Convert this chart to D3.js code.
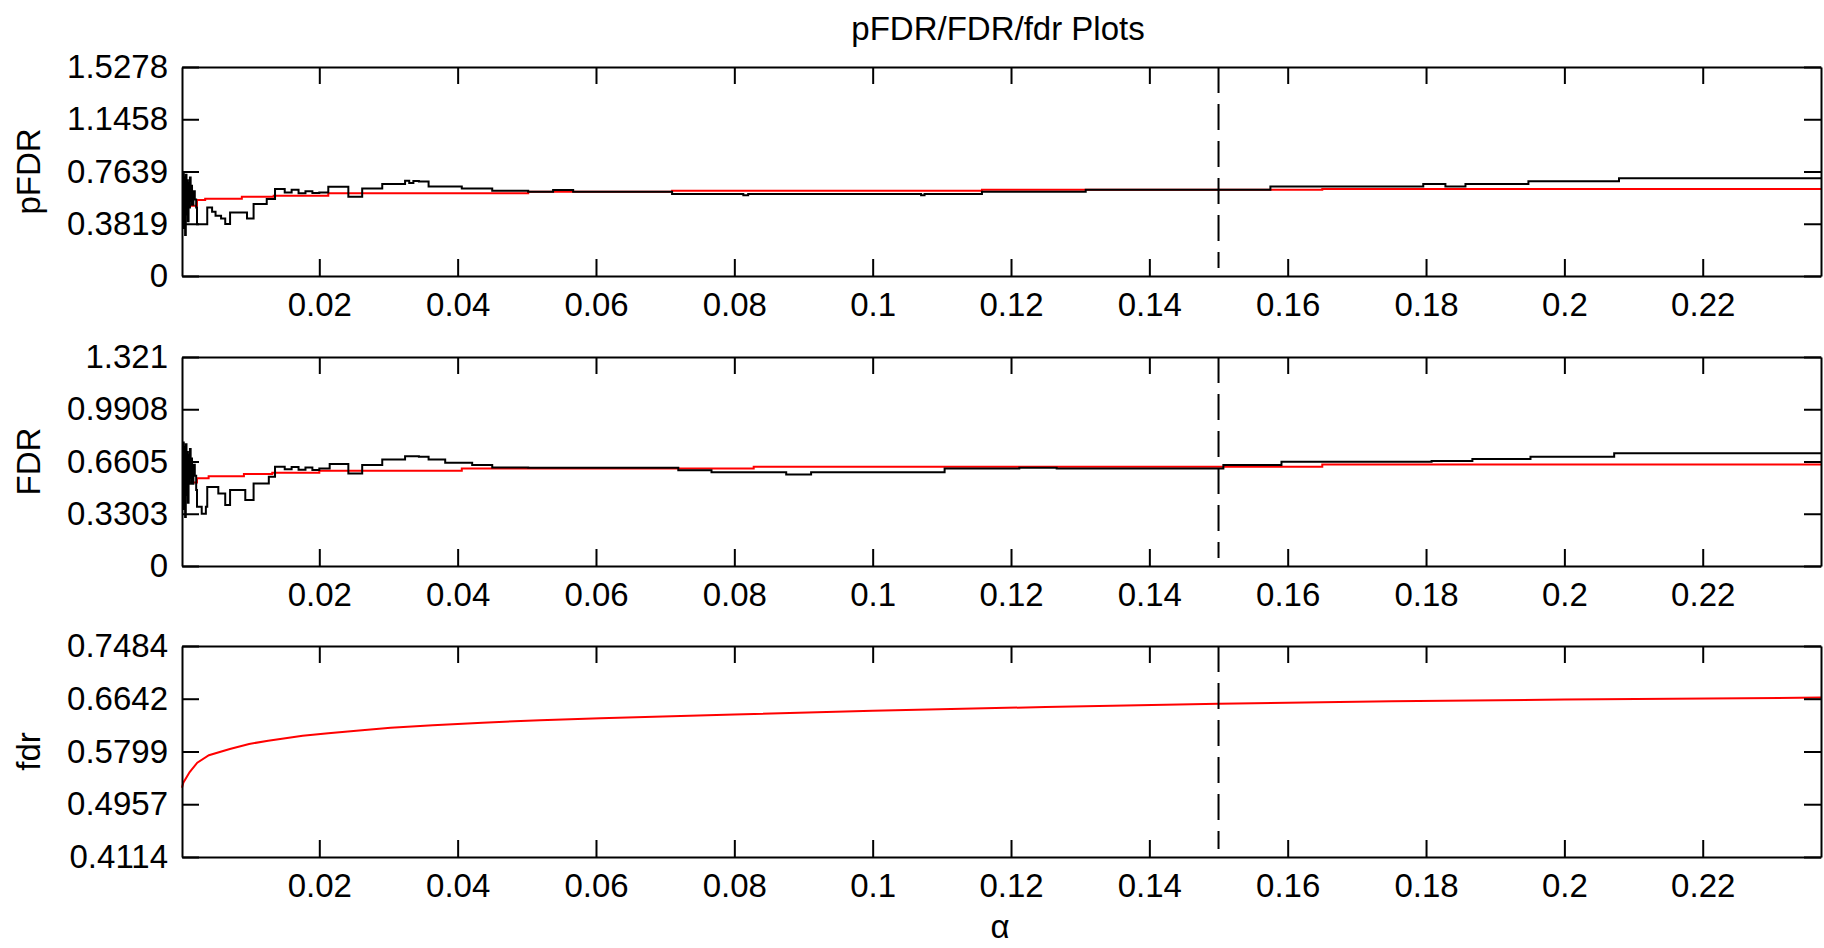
<!DOCTYPE html>
<html>
<head>
<meta charset="utf-8">
<script src="https://cdn.jsdelivr.net/npm/d3@7"></script>
<style>
  body { margin: 0; background: #fff; }
  svg text { font-family: "Liberation Sans", Arial, sans-serif; fill: #000; }
</style>
</head>
<body>
<svg id="chart" width="1824" height="948"></svg>
<script>
// x axis (alpha)
const alphaRange = [0.00015, 0.2371];
const alphaTicks = [0.02, 0.04, 0.06, 0.08, 0.1, 0.12, 0.14, 0.16, 0.18, 0.2, 0.22];
const alphaCut = 0.15;

// y tick labels per panel
const pfdrTicks = [0, 0.3819, 0.7639, 1.1458, 1.5278];
const fdrTicks = [0, 0.3303, 0.6605, 0.9908, 1.321];
const localTicks = [0.4114, 0.4957, 0.5799, 0.6642, 0.7484];

// pFDR panel: observed (black) and estimate (red), [alpha, value]
const pfdrObserved = [
  [0.00015, 0.55], [0.0003, 0.76], [0.0004, 0.35], [0.0005, 0.72], [0.0006, 0.30],
  [0.0007, 0.74], [0.0008, 0.45], [0.0009, 0.70], [0.0010, 0.40], [0.0011, 0.68],
  [0.0012, 0.50], [0.0013, 0.72], [0.0014, 0.55], [0.0015, 0.66], [0.0016, 0.52],
  [0.0018, 0.62], [0.0020, 0.56], [0.0022, 0.50], [0.00232, 0.379], [0.0036, 0.379],
  [0.0038, 0.50], [0.0045, 0.47], [0.0050, 0.44], [0.0058, 0.42], [0.0064, 0.38],
  [0.0071, 0.464], [0.0093, 0.464], [0.00955, 0.42], [0.0105, 0.526], [0.0124, 0.563],
  [0.0136, 0.636], [0.0150, 0.611], [0.0160, 0.63], [0.0170, 0.605], [0.0180, 0.62],
  [0.0190, 0.606], [0.0200, 0.611], [0.0213, 0.653], [0.0242, 0.579], [0.0262, 0.64],
  [0.0291, 0.672], [0.0324, 0.697], [0.0330, 0.68], [0.0336, 0.695], [0.0344, 0.69],
  [0.0358, 0.655], [0.0406, 0.640], [0.0450, 0.623], [0.0502, 0.616], [0.0538, 0.628],
  [0.0567, 0.616], [0.0710, 0.599], [0.0813, 0.590], [0.0820, 0.599], [0.1070, 0.590],
  [0.1075, 0.599], [0.1158, 0.616], [0.1308, 0.631], [0.1575, 0.655], [0.1796, 0.673],
  [0.1828, 0.655], [0.1857, 0.673], [0.1948, 0.692], [0.2079, 0.714], [0.2371, 0.714]
];
const pfdrEstimate = [
  [0.00015, 0.513], [0.00232, 0.555], [0.0035, 0.565], [0.0088, 0.579], [0.0134, 0.587],
  [0.0213, 0.604], [0.0502, 0.616], [0.0710, 0.623], [0.1158, 0.631], [0.1650, 0.636],
  [0.2371, 0.636]
];

// FDR panel
const fdrObserved = [
  [0.00015, 0.60], [0.0003, 0.78], [0.0004, 0.36], [0.0005, 0.75], [0.0006, 0.31],
  [0.0007, 0.77], [0.0008, 0.45], [0.0009, 0.72], [0.0010, 0.40], [0.0011, 0.70],
  [0.0012, 0.52], [0.0013, 0.74], [0.0014, 0.56], [0.0015, 0.68], [0.0016, 0.52],
  [0.0018, 0.64], [0.0020, 0.57], [0.0022, 0.48], [0.00232, 0.374], [0.0030, 0.33],
  [0.0036, 0.374], [0.0038, 0.50], [0.0054, 0.459], [0.0064, 0.385], [0.0071, 0.48],
  [0.0093, 0.417], [0.0105, 0.522], [0.0127, 0.564], [0.0136, 0.627], [0.0150, 0.612],
  [0.0160, 0.625], [0.0170, 0.608], [0.0180, 0.622], [0.0190, 0.607], [0.0200, 0.617],
  [0.0215, 0.644], [0.0242, 0.585], [0.0262, 0.638], [0.0291, 0.673], [0.0324, 0.694],
  [0.0344, 0.690], [0.0358, 0.673], [0.0382, 0.652], [0.0421, 0.638], [0.0450, 0.623],
  [0.0502, 0.621], [0.0719, 0.605], [0.0767, 0.592], [0.0875, 0.578], [0.0911, 0.592],
  [0.1104, 0.617], [0.1212, 0.621], [0.1266, 0.617], [0.1507, 0.638], [0.1591, 0.659],
  [0.1808, 0.664], [0.1867, 0.676], [0.1951, 0.691], [0.2072, 0.712], [0.2371, 0.712]
];
const fdrEstimate = [
  [0.00015, 0.528], [0.00232, 0.554], [0.0040, 0.568], [0.0091, 0.581], [0.0132, 0.589],
  [0.0200, 0.602], [0.0406, 0.617], [0.0828, 0.627], [0.1650, 0.642], [0.2371, 0.645]
];

// local fdr panel
const localFdr = [
  [0.00015, 0.522], [0.00034, 0.530], [0.00126, 0.547], [0.00236, 0.562], [0.00404, 0.574],
  [0.00707, 0.584], [0.00985, 0.592], [0.01261, 0.597], [0.01759, 0.605], [0.0213, 0.609],
  [0.02535, 0.613], [0.03032, 0.618], [0.03641, 0.622], [0.0436, 0.626], [0.0519, 0.630],
  [0.06063, 0.633], [0.08, 0.639], [0.1, 0.645], [0.125, 0.651], [0.15, 0.656],
  [0.175, 0.660], [0.2, 0.663], [0.2371, 0.666]
];

const svg = d3.select("#chart");
const left = 182, right = 1821, tick = 17, fs = 33;
const x = d3.scaleLinear().domain(alphaRange).range([left, right]);

const panels = [
  { label: "pFDR", top: 67, bottom: 276, ticks: pfdrTicks, black: pfdrObserved, red: pfdrEstimate, step: true },
  { label: "FDR", top: 357, bottom: 566, ticks: fdrTicks, black: fdrObserved, red: fdrEstimate, step: true },
  { label: "fdr", top: 646, bottom: 857, ticks: localTicks, black: null, red: localFdr, step: false }
];

function styleAxis(g) {
  g.attr("font-size", null).attr("font-family", null);
  g.selectAll(".domain").attr("stroke", "#000").attr("stroke-width", 2);
  g.selectAll(".tick line").attr("stroke", "#000").attr("stroke-width", 2);
  g.selectAll(".tick text").attr("font-size", fs).attr("fill", "#000");
}

panels.forEach(p => {
  const y = d3.scaleLinear().domain([p.ticks[0], p.ticks[p.ticks.length - 1]]).range([p.bottom, p.top]);
  const g = svg.append("g");

  const line = d3.line().x(d => x(d[0])).y(d => y(d[1]))
    .curve(p.step ? d3.curveStepAfter : d3.curveLinear);

  g.append("path").datum(p.red)
    .attr("fill", "none").attr("stroke", "#ff0000").attr("stroke-width", 2).attr("d", line);
  if (p.black) {
    g.append("path").datum(p.black)
      .attr("fill", "none").attr("stroke", "#000").attr("stroke-width", 2).attr("d", line);
  }

  // threshold
  g.append("line")
    .attr("x1", x(alphaCut)).attr("x2", x(alphaCut))
    .attr("y1", p.top).attr("y2", p.bottom - 8)
    .attr("stroke", "#000").attr("stroke-width", 2).attr("stroke-dasharray", "26,11");

  g.append("g").attr("transform", `translate(0,${p.bottom})`)
    .call(d3.axisBottom(x).tickValues(alphaTicks).tickSize(-tick).tickSizeOuter(0)
      .tickPadding(17).tickFormat(d => String(d)))
    .call(styleAxis);
  g.append("g").attr("transform", `translate(0,${p.top})`)
    .call(d3.axisTop(x).tickValues(alphaTicks).tickSize(-tick).tickSizeOuter(0).tickFormat(() => ""))
    .call(styleAxis);
  g.append("g").attr("transform", `translate(${left},0)`)
    .call(d3.axisLeft(y).tickValues(p.ticks).tickSize(-tick).tickSizeOuter(0)
      .tickPadding(14).tickFormat(d => String(d)))
    .call(styleAxis);
  g.append("g").attr("transform", `translate(${right},0)`)
    .call(d3.axisRight(y).tickValues(p.ticks).tickSize(-tick).tickSizeOuter(0).tickFormat(() => ""))
    .call(styleAxis);

  svg.append("text")
    .attr("transform", `translate(28,${(p.top + p.bottom) / 2}) rotate(-90)`)
    .attr("text-anchor", "middle").attr("dominant-baseline", "central")
    .attr("font-size", fs).text(p.label);
});

svg.append("text").attr("x", 998).attr("y", 40).attr("text-anchor", "middle")
  .attr("font-size", fs).text("pFDR/FDR/fdr Plots");
svg.append("text").attr("x", 1000).attr("y", 938).attr("text-anchor", "middle")
  .attr("font-size", fs).text("α");
</script>
</body>
</html>
